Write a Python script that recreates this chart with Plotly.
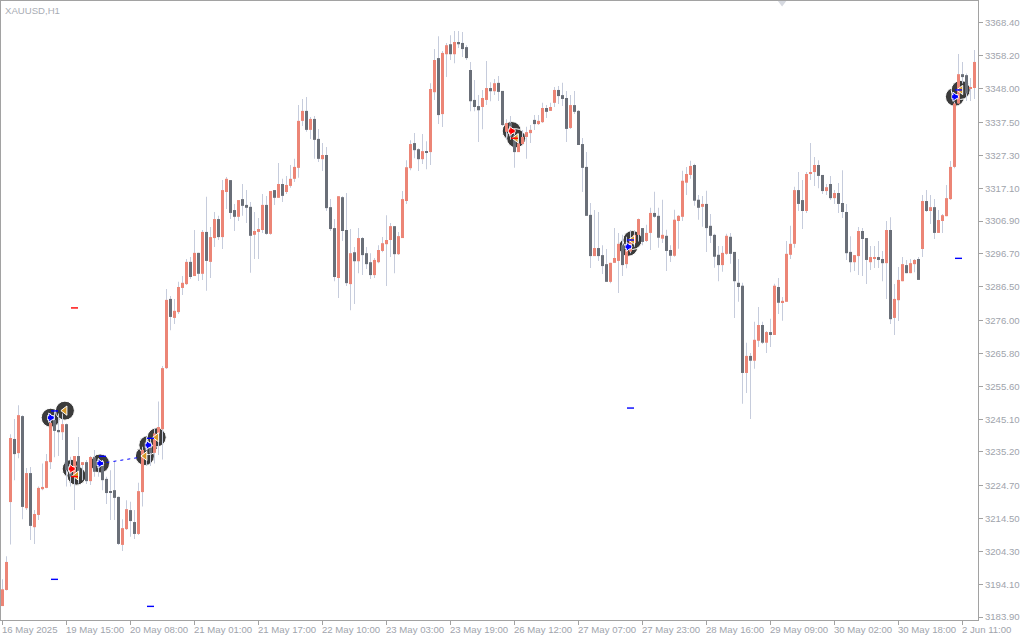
import plotly.graph_objects as go

OPENS = [
3187.3,3192.3,3219.6,3239.2,3234.8,3246.3,3217.7,3228.6,3211.8,3215.6,
3223.6,3224.0,3232.0,3245.1,3242.0,3241.3,3243.8,3230.8,3228.0,3233.9,
3231.4,3232.0,3226.1,3233.5,3232.7,3231.1,3226.8,3223.0,3223.3,3221.2,
3206.3,3211.2,3217.1,3213.4,3209.7,3222.7,3237.9,3237.3,3234.9,3240.9,
3242.2,3261.2,3282.7,3276.8,3278.6,3286.1,3287.3,3294.2,3289.8,3297.0,
3290.5,3303.5,3294.2,3301.6,3307.5,3301.9,3315.9,3319.6,3310.3,3308.2,
3313.7,3311.9,3311.3,3302.6,3303.5,3304.1,3311.9,3302.9,3316.5,3314.1,
3318.4,3315.9,3317.8,3320.0,3323.4,3338.0,3341.1,3335.2,3338.6,3332.4,
3326.1,3327.4,3311.2,3304.7,3289.2,3314.3,3304.1,3287.3,3297.2,3294.4,
3301.6,3296.9,3294.1,3290.1,3294.1,3297.6,3299.7,3301.0,3305.3,3296.6,
3301.6,3313.1,3323.3,3331.1,3329.2,3326.1,3328.6,3328.3,3346.9,3357.5,
3340.1,3358.7,3361.8,3358.7,3362.5,3362.2,3360.9,3353.8,3344.5,3342.6,
3342.3,3344.5,3348.2,3347.2,3349.8,3347.3,3334.6,3337.4,3333.6,3328.3,
3330.8,3333.0,3334.2,3338.3,3337.0,3337.6,3342.0,3341.1,3343.6,3347.6,
3346.0,3345.1,3335.8,3342.9,3341.1,3330.8,3323.7,3308.8,3296.0,3298.5,
3296.3,3293.5,3288.0,3293.9,3294.5,3299.4,3293.5,3297.4,3300.0,3302.6,
3304.7,3300.7,3303.2,3309.4,3308.5,3301.4,3302.3,3297.9,3296.1,3306.9,
3308.2,3318.8,3321.2,3324.3,3313.5,3311.3,3312.2,3305.4,3302.6,3296.4,
3293.2,3296.7,3302.0,3297.3,3287.7,3286.8,3259.7,3265.0,3263.5,3269.7,
3274.6,3269.1,3272.4,3271.5,3286.4,3281.5,3281.8,3296.4,3299.8,3316.5,
3313.4,3310.0,3321.5,3322.1,3324.3,3321.2,3316.2,3318.4,3314.0,3315.6,
3312.5,3309.7,3297.3,3294.1,3296.0,3303.8,3301.6,3294.1,3295.4,3295.7,
3295.1,3293.8,3304.1,3276.8,3282.3,3288.2,3293.2,3290.7,3293.5,3295.1,
3298.2,3313.1,3310.0,3311.2,3303.2,3306.9,3308.4,3313.7,3323.7,3343.4,
3352.5,3352.2,3348.2,3348.2,
]
HIGHS = [
3195.6,3202.8,3240.7,3245.4,3249.7,3246.6,3230.2,3230.5,3217.1,3224.4,
3231.6,3234.5,3247.1,3248.2,3247.1,3247.1,3244.0,3233.7,3233.9,3239.8,
3232.0,3232.7,3233.9,3235.8,3233.2,3232.7,3227.5,3229.5,3232.3,3221.3,
3214.3,3220.2,3219.7,3217.1,3225.6,3236.8,3239.8,3239.5,3242.5,3250.8,
3261.9,3285.8,3283.6,3282.7,3288.0,3289.8,3295.1,3295.7,3304.1,3297.0,
3304.1,3314.4,3305.0,3309.7,3308.5,3319.6,3320.6,3319.6,3312.2,3313.4,
3318.4,3316.5,3312.8,3309.7,3307.8,3315.3,3314.7,3316.2,3316.5,3324.9,
3320.0,3320.9,3324.3,3326.2,3342.9,3344.8,3345.4,3339.2,3339.5,3335.5,
3331.1,3329.9,3313.7,3307.5,3314.6,3314.6,3315.6,3304.4,3298.8,3304.7,
3301.9,3298.8,3296.9,3295.4,3299.4,3301.9,3308.7,3306.3,3305.3,3303.5,
3316.2,3325.8,3332.0,3334.2,3329.5,3333.9,3331.7,3349.7,3360.3,3364.3,
3359.7,3362.2,3364.6,3365.9,3365.9,3365.6,3361.5,3356.3,3350.7,3346.0,
3347.6,3356.6,3350.0,3351.0,3351.9,3347.3,3338.5,3339.5,3335.2,3334.1,
3335.2,3336.2,3336.7,3339.8,3339.8,3343.6,3342.9,3343.6,3348.5,3348.8,
3349.8,3347.3,3346.0,3347.3,3341.4,3332.7,3328.3,3312.5,3310.3,3309.7,
3299.4,3298.2,3293.9,3304.7,3303.2,3302.6,3302.0,3304.1,3304.1,3307.7,
3304.7,3305.7,3311.0,3316.0,3311.0,3313.5,3304.2,3299.4,3310.4,3308.8,
3322.5,3323.7,3325.6,3324.7,3315.0,3314.7,3316.3,3309.1,3302.9,3299.1,
3299.1,3302.9,3303.2,3297.3,3295.1,3287.7,3269.1,3265.9,3275.6,3280.2,
3275.6,3272.7,3276.5,3287.4,3289.2,3283.3,3300.7,3305.4,3317.5,3322.1,
3319.6,3322.1,3331.1,3326.8,3325.8,3321.2,3318.4,3320.9,3316.5,3318.7,
3322.7,3312.2,3302.2,3296.3,3305.0,3304.7,3301.6,3299.1,3299.1,3300.7,
3297.6,3306.9,3308.1,3287.3,3292.6,3295.7,3294.8,3295.1,3295.1,3295.7,
3315.0,3316.5,3315.0,3313.7,3310.3,3309.1,3318.1,3325.5,3343.9,3358.8,
3356.3,3352.7,3351.3,3360.0,
]
LOWS = [
3187.3,3192.1,3206.4,3226.4,3233.2,3214.3,3217.1,3207.8,3206.6,3214.0,
3223.3,3223.9,3229.9,3233.5,3233.9,3238.9,3224.4,3224.4,3217.1,3225.4,
3226.4,3225.2,3224.9,3227.5,3227.5,3223.3,3219.0,3214.0,3214.0,3206.3,
3204.4,3210.9,3208.8,3208.1,3209.4,3218.2,3230.8,3230.8,3231.6,3234.2,
3232.8,3260.9,3273.0,3274.9,3278.0,3283.9,3287.0,3288.9,3289.8,3288.3,
3288.6,3285.2,3289.2,3298.8,3301.0,3298.2,3310.6,3307.5,3303.8,3306.9,
3308.5,3306.3,3290.8,3295.1,3295.1,3303.2,3302.6,3302.6,3311.9,3314.1,
3312.8,3315.3,3317.2,3319.0,3320.3,3336.4,3334.6,3332.4,3326.2,3325.2,
3322.4,3310.0,3303.8,3288.2,3283.0,3300.7,3286.7,3279.2,3281.1,3290.7,
3290.1,3292.0,3288.9,3289.2,3293.8,3297.2,3286.7,3295.7,3290.7,3296.3,
3301.6,3312.2,3322.7,3326.4,3322.4,3324.6,3323.0,3324.3,3344.5,3337.0,
3336.1,3351.6,3356.9,3355.9,3360.6,3357.8,3356.9,3341.0,3341.0,3331.4,
3335.4,3342.9,3344.1,3346.0,3344.2,3336.4,3332.1,3332.1,3323.4,3328.3,
3330.5,3326.2,3331.1,3335.2,3336.7,3337.3,3338.9,3341.1,3342.3,3343.2,
3342.6,3331.4,3335.5,3340.1,3330.5,3315.9,3308.5,3292.3,3296.0,3294.5,
3290.4,3288.0,3287.6,3293.9,3284.5,3289.8,3292.2,3296.9,3298.9,3300.5,
3299.4,3300.4,3297.9,3307.9,3298.6,3300.1,3291.4,3294.2,3295.8,3298.3,
3306.9,3315.0,3320.0,3311.6,3307.3,3305.1,3297.3,3300.1,3292.4,3288.2,
3291.1,3296.4,3293.6,3276.8,3281.8,3250.1,3253.5,3245.4,3261.0,3267.8,
3268.7,3265.9,3267.8,3271.5,3278.0,3275.9,3281.8,3295.1,3298.6,3310.0,
3304.4,3309.4,3319.6,3317.8,3317.1,3315.3,3315.0,3313.4,3312.2,3309.4,
3307.8,3294.8,3291.0,3291.4,3290.1,3289.8,3287.3,3291.7,3292.3,3292.3,
3288.2,3282.7,3274.9,3271.5,3275.8,3288.2,3290.7,3290.7,3291.0,3288.6,
3295.7,3309.7,3306.0,3301.3,3303.2,3303.2,3308.4,3313.4,3323.3,3343.4,
3349.6,3344.2,3344.2,3344.8,
]
CLOSES = [
3192.5,3201.0,3239.5,3234.5,3246.6,3218.1,3228.6,3212.2,3215.9,3224.0,
3224.3,3232.3,3244.2,3241.7,3241.3,3243.8,3229.5,3227.5,3233.9,3227.5,
3232.0,3226.1,3233.6,3229.0,3230.1,3226.4,3222.4,3222.7,3220.9,3206.6,
3211.5,3217.4,3213.7,3209.7,3223.0,3235.8,3235.5,3234.8,3240.9,3242.9,
3261.2,3282.4,3277.1,3279.0,3286.4,3287.7,3294.2,3289.5,3297.0,3290.5,
3303.5,3294.5,3301.9,3307.5,3301.9,3316.5,3320.0,3309.4,3308.2,3313.4,
3311.6,3311.0,3302.3,3303.8,3304.4,3311.9,3302.9,3316.2,3314.1,3318.4,
3314.7,3318.1,3320.0,3323.7,3338.0,3341.1,3335.2,3338.6,3332.1,3326.2,
3327.4,3310.9,3304.4,3289.5,3314.6,3303.8,3287.6,3296.9,3294.4,3301.6,
3296.3,3293.5,3290.1,3294.8,3297.9,3300.0,3301.0,3305.3,3296.6,3302.2,
3313.7,3323.6,3330.8,3328.9,3326.1,3328.6,3328.3,3347.9,3356.9,3339.8,
3359.1,3361.5,3358.7,3362.5,3361.8,3360.3,3357.5,3344.1,3342.3,3341.3,
3345.1,3348.2,3347.2,3349.7,3347.0,3336.7,3337.3,3333.1,3328.3,3331.0,
3333.0,3334.5,3335.2,3337.0,3338.0,3342.0,3340.8,3342.3,3347.6,3345.7,
3344.8,3335.5,3342.9,3340.8,3330.5,3323.4,3308.5,3296.0,3298.5,3296.0,
3292.9,3288.0,3293.9,3295.4,3299.8,3293.2,3297.9,3301.5,3302.6,3307.5,
3300.4,3303.2,3309.4,3308.2,3301.7,3302.6,3297.6,3296.1,3307.3,3308.5,
3319.4,3321.5,3324.0,3313.2,3311.0,3312.2,3304.7,3302.3,3295.8,3293.2,
3297.0,3302.3,3296.7,3288.2,3286.4,3259.7,3265.0,3263.5,3270.0,3274.6,
3269.1,3272.4,3271.5,3286.8,3281.5,3282.1,3296.7,3299.8,3316.5,3312.2,
3310.0,3321.5,3322.1,3324.3,3320.9,3316.2,3317.4,3314.0,3315.6,3312.2,
3309.7,3296.9,3294.1,3296.3,3303.8,3301.3,3294.8,3295.7,3295.7,3294.8,
3293.8,3304.1,3276.4,3282.7,3288.6,3293.5,3290.7,3293.8,3294.8,3288.6,
3313.1,3310.0,3311.2,3303.2,3307.2,3308.7,3314.0,3323.7,3343.4,3352.5,
3351.6,3346.5,3348.5,3356.3,
]

TIME_TICKS = [0,16,32,48,64,80,96,112,128,144,160,176,192,208,224,240]
TIME_LABELS = ["16 May 2025","19 May 15:00","20 May 08:00","21 May 01:00","21 May 17:00",
               "22 May 10:00","23 May 03:00","23 May 19:00","26 May 12:00","27 May 07:00",
               "27 May 23:00","28 May 16:00","29 May 09:00","30 May 02:00","30 May 18:00","2 Jun 11:00"]
PRICE_TICKS = [3368.4,3358.2,3348.0,3337.5,3327.3,3317.1,3306.9,3296.7,3286.5,3276.0,
               3265.8,3255.6,3245.1,3235.2,3224.7,3214.5,3204.3,3194.1,3183.9]

DISC_N = [12.05,15.6,17.3,18.5,24.4,35.6,36.45,38.55,127.3,128.4,156.45,157.5,238.1,239.55]
DISC_P = [3245.8,3248.0,3229.9,3227.8,3231.6,3233.9,3237.3,3239.7,3334.85,3332.6,3298.9,3301.0,3345.5,3347.6]
BLUE_N = [12.05,24.4,36.45,156.45,238.1]
BLUE_P = [3245.8,3231.6,3237.3,3298.9,3345.5]
RED_N = [17.3,127.3]
RED_P = [3229.9,3334.85]
GOLD_N = [15.6,18.5,35.6,38.55,128.4,157.5,239.55]
GOLD_P = [3248.0,3227.8,3233.9,3239.7,3332.6,3301.0,3347.6]
DASH_BLUE_N = [13,37,157,239,13,25,37,157,239]
DASH_BLUE_P = [3195.6,3187.2,3248.8,3295.3,3247.9,3233.8,3239.4,3301.0,3347.6]
DASH_RED_N = [18,18,128]
DASH_RED_P = [3279.9,3227.5,3332.6]
LINK_N = [26,34.4]
LINK_P = [3231.9,3233.5]

C_UP = "#ec8576"
C_DOWN = "#6a6f78"
C_WICK = "#c6ccdc"
C_AXIS = "#a2a2a2"
C_TEXT = "#a0a4ac"
FONT = "Liberation Sans"
FSIZE = 9.6

X_RANGE = [-0.375, 243.875]
Y_RANGE = [3182.97, 3375.23]

idx = list(range(len(OPENS)))
up = [i for i in idx if CLOSES[i] >= OPENS[i]]
down = [i for i in idx if CLOSES[i] < OPENS[i]]


def body(ids, color):
    return go.Bar(x=ids,
                  y=[abs(CLOSES[i] - OPENS[i]) for i in ids],
                  base=[min(OPENS[i], CLOSES[i]) for i in ids],
                  width=0.75, marker=dict(color=color, line=dict(width=0)),
                  xaxis="x2", yaxis="y2", hoverinfo="skip")


fig = go.Figure()
fig.add_trace(go.Scatter(x=DISC_N, y=DISC_P, mode="markers", hoverinfo="skip",
                         marker=dict(size=19, color="#3b3b3b", line=dict(color="#ffffff", width=1))))
fig.add_trace(go.Bar(x=idx, y=[HIGHS[i] - LOWS[i] for i in idx], base=LOWS, width=0.25,
                     marker=dict(color=C_WICK, line=dict(width=0)),
                     xaxis="x2", yaxis="y2", hoverinfo="skip"))
fig.add_trace(body(up, C_UP))
fig.add_trace(body(down, C_DOWN))

top = dict(xaxis="x3", yaxis="y3", hoverinfo="skip")
fig.add_trace(go.Scatter(x=LINK_N, y=LINK_P, mode="lines", line=dict(color="#0000ff", width=1, dash="3px 4px"), **top))
fig.add_trace(go.Scatter(x=GOLD_N, y=GOLD_P, mode="markers",
                         marker=dict(symbol="triangle-left", size=8, color="#d99a2b", line=dict(color="#ffffff", width=1)), **top))
for ns, ps, colr in [(BLUE_N, BLUE_P, "#0000ff"), (RED_N, RED_P, "#ff0000")]:
    fig.add_trace(go.Scatter(x=ns, y=ps, mode="markers",
                             marker=dict(symbol="line-ew", size=5, line=dict(color="#ffffff", width=5)), **top))
    fig.add_trace(go.Scatter(x=ns, y=ps, mode="markers",
                             marker=dict(symbol="triangle-right", size=8, color=colr, line=dict(color="#ffffff", width=1)), **top))
    fig.add_trace(go.Scatter(x=ns, y=ps, mode="markers",
                             marker=dict(symbol="line-ew", size=4, line=dict(color=colr, width=3)), **top))
fig.add_trace(go.Scatter(x=DASH_BLUE_N, y=DASH_BLUE_P, mode="markers",
                         marker=dict(symbol="line-ew", size=5, line=dict(color="#0000ff", width=1.4)), **top))
fig.add_trace(go.Scatter(x=DASH_RED_N, y=DASH_RED_P, mode="markers",
                         marker=dict(symbol="line-ew", size=5, line=dict(color="#ff0000", width=1.4)), **top))
fig.add_trace(go.Scatter(x=[194.9], y=[3374.8], mode="markers", cliponaxis=False,
                         marker=dict(symbol="triangle-down", size=8, color="#d6d9e0"), **top))

annotations = [dict(x=n, y=0, xref="x", yref="paper", text=t, showarrow=False,
                    xanchor="left", yanchor="top", xshift=-3, yshift=-2,
                    font=dict(family=FONT, size=FSIZE, color=C_TEXT))
               for n, t in zip(TIME_TICKS, TIME_LABELS)]
annotations.append(dict(x=0, y=1, xref="paper", yref="paper", text="XAUUSD,H1", showarrow=False,
                        xanchor="left", yanchor="top", xshift=2, yshift=-2,
                        font=dict(family=FONT, size=FSIZE, color="#a9adb5")))

hidden = dict(visible=False, fixedrange=True)
fig.update_layout(
    width=1024, height=640, margin=dict(l=1, r=46, t=1, b=20, pad=0),
    paper_bgcolor="#ffffff", plot_bgcolor="#ffffff", showlegend=False,
    barmode="overlay", annotations=annotations,
    xaxis=dict(range=X_RANGE, tickmode="array", tickvals=TIME_TICKS, showticklabels=False,
               ticks="outside", ticklen=4, tickcolor=C_AXIS, showgrid=False, zeroline=False,
               showline=True, mirror=True, linecolor=C_AXIS, linewidth=1),
    yaxis=dict(range=Y_RANGE, side="right", tickmode="array", tickvals=PRICE_TICKS,
               ticktext=[f"{p:.2f}" for p in PRICE_TICKS],
               ticks="outside", ticklen=4, tickcolor=C_AXIS, showgrid=False, zeroline=False,
               showline=True, mirror=True, linecolor=C_AXIS, linewidth=1,
               tickfont=dict(family=FONT, size=FSIZE, color=C_TEXT)),
    xaxis2=dict(range=X_RANGE, overlaying="x", anchor="y2", **hidden),
    yaxis2=dict(range=Y_RANGE, overlaying="y", anchor="x2", **hidden),
    xaxis3=dict(range=X_RANGE, overlaying="x", anchor="y3", **hidden),
    yaxis3=dict(range=Y_RANGE, overlaying="y", anchor="x3", **hidden),
)

fig.write_html("out.html", config=dict(displayModeBar=False),
               post_script="document.body.style.margin='0';")
